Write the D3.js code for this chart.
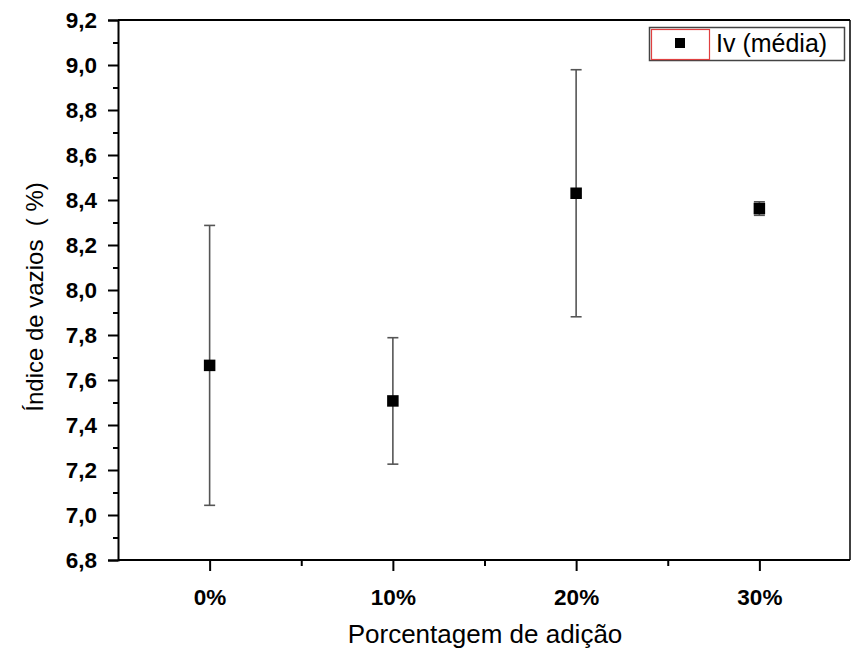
<!DOCTYPE html>
<html>
<head>
<meta charset="utf-8">
<script src="https://cdn.jsdelivr.net/npm/d3@7"></script>
<style>
  html, body { margin: 0; padding: 0; background: #fff; }
  svg { display: block; font-family: "Liberation Sans", Arial, sans-serif; }
</style>
</head>
<body>
<svg id="chart" width="851" height="650"></svg>
<script>
const categories = ["0%", "10%", "20%", "30%"];
const means = [7.665, 7.507, 8.430, 8.362];
const errors = [0.622, 0.281, 0.549, 0.030];
const yTicks = [6.8, 7.0, 7.2, 7.4, 7.6, 7.8, 8.0, 8.2, 8.4, 8.6, 8.8, 9.0, 9.2];
const yMinorTicks = [6.9, 7.1, 7.3, 7.5, 7.7, 7.9, 8.1, 8.3, 8.5, 8.7, 8.9, 9.1];
const xMinorTicks = [0.5, 1.5, 2.5];
const seriesName = "Iv (média)";
const xTitle = "Porcentagem de adição";
const yTitle = "Índice de vazios  ( %)";

(function () {
const svg = d3.select("#chart");
const pL = 118, pR = 850, pT = 20, pB = 560;

const x = d3.scaleLinear().domain([-0.5, 3.5]).range([pL, pR + 1]);
const y = d3.scaleLinear().domain([6.8, 9.2]).range([pB, pT]);

const fmt = d => d.toFixed(1).replace(".", ",");

// Frame (top and right)
svg.append("line").attr("x1", pL).attr("x2", pR).attr("y1", pT).attr("y2", pT)
  .attr("stroke", "#000").attr("stroke-width", 2);
svg.append("line").attr("x1", pR).attr("x2", pR).attr("y1", pT).attr("y2", pB)
  .attr("stroke", "#000").attr("stroke-width", 1.5);

// Y axis
svg.append("g").attr("transform", `translate(${pL},0)`)
  .call(d3.axisLeft(y).tickValues(yTicks).tickFormat(fmt).tickSize(10).tickPadding(11));
svg.append("g").attr("transform", `translate(${pL},0)`)
  .call(d3.axisLeft(y).tickValues(yMinorTicks).tickFormat("").tickSize(5))
  .call(g => g.select(".domain").remove());

// X axis
const xAxis = svg.append("g").attr("transform", `translate(0,${pB})`)
  .call(d3.axisBottom(x).tickValues(d3.range(categories.length)).tickFormat(i => categories[i]).tickSize(11).tickPadding(18));
svg.append("g").attr("transform", `translate(0,${pB})`)
  .call(d3.axisBottom(x).tickValues(xMinorTicks).tickFormat("").tickSize(6))
  .call(g => g.select(".domain").remove());

svg.selectAll(".domain").attr("stroke", "#000").attr("stroke-width", 2);
svg.selectAll(".tick line").attr("stroke", "#000").attr("stroke-width", 2);
svg.selectAll(".tick text").attr("fill", "#000").style("font-size", "22.5px").style("font-weight", "bold")
  .style("font-family", "'Liberation Sans', Arial, sans-serif");
xAxis.selectAll(".domain").attr("d", `M${pL},0H${pR}`);

// Axis titles
svg.append("text").attr("x", 485).attr("y", 643).attr("text-anchor", "middle")
  .style("font-size", "26px").attr("fill", "#000").text(xTitle);
svg.append("text").attr("transform", `translate(43,${297}) rotate(-90)`).attr("text-anchor", "middle")
  .style("font-size", "24px").style("white-space", "pre").attr("fill", "#000").text(yTitle);

// Error bars
const pts = categories.map((c, i) => ({ i, m: means[i], e: errors[i] }));
const eb = svg.append("g").attr("stroke", "#555").attr("stroke-width", 1.6);
pts.forEach(p => {
  const cx = x(p.i);
  eb.append("line").attr("x1", cx).attr("x2", cx).attr("y1", y(p.m + p.e)).attr("y2", y(p.m - p.e));
  eb.append("line").attr("x1", cx - 5.5).attr("x2", cx + 5.5).attr("y1", y(p.m + p.e)).attr("y2", y(p.m + p.e));
  eb.append("line").attr("x1", cx - 5.5).attr("x2", cx + 5.5).attr("y1", y(p.m - p.e)).attr("y2", y(p.m - p.e));
});

// Markers
const ms = 11.5;
svg.append("g").selectAll("rect").data(pts).join("rect")
  .attr("x", d => x(d.i) - ms / 2).attr("y", d => y(d.m) - ms / 2)
  .attr("width", ms).attr("height", ms).attr("fill", "#000");

// Legend
const lg = svg.append("g");
lg.append("rect").attr("x", 649.5).attr("y", 27.5).attr("width", 195).attr("height", 33)
  .attr("fill", "#fff").attr("stroke", "#444").attr("stroke-width", 1.5);
lg.append("rect").attr("x", 651.5).attr("y", 29.5).attr("width", 58).attr("height", 30)
  .attr("fill", "none").attr("stroke", "#e04040").attr("stroke-width", 1.2);
lg.append("rect").attr("x", 675).attr("y", 38).attr("width", 10).attr("height", 10).attr("fill", "#000");
lg.append("text").attr("x", 716).attr("y", 52).style("font-size", "25px").attr("fill", "#000").text(seriesName);
})();
</script>
</body>
</html>
